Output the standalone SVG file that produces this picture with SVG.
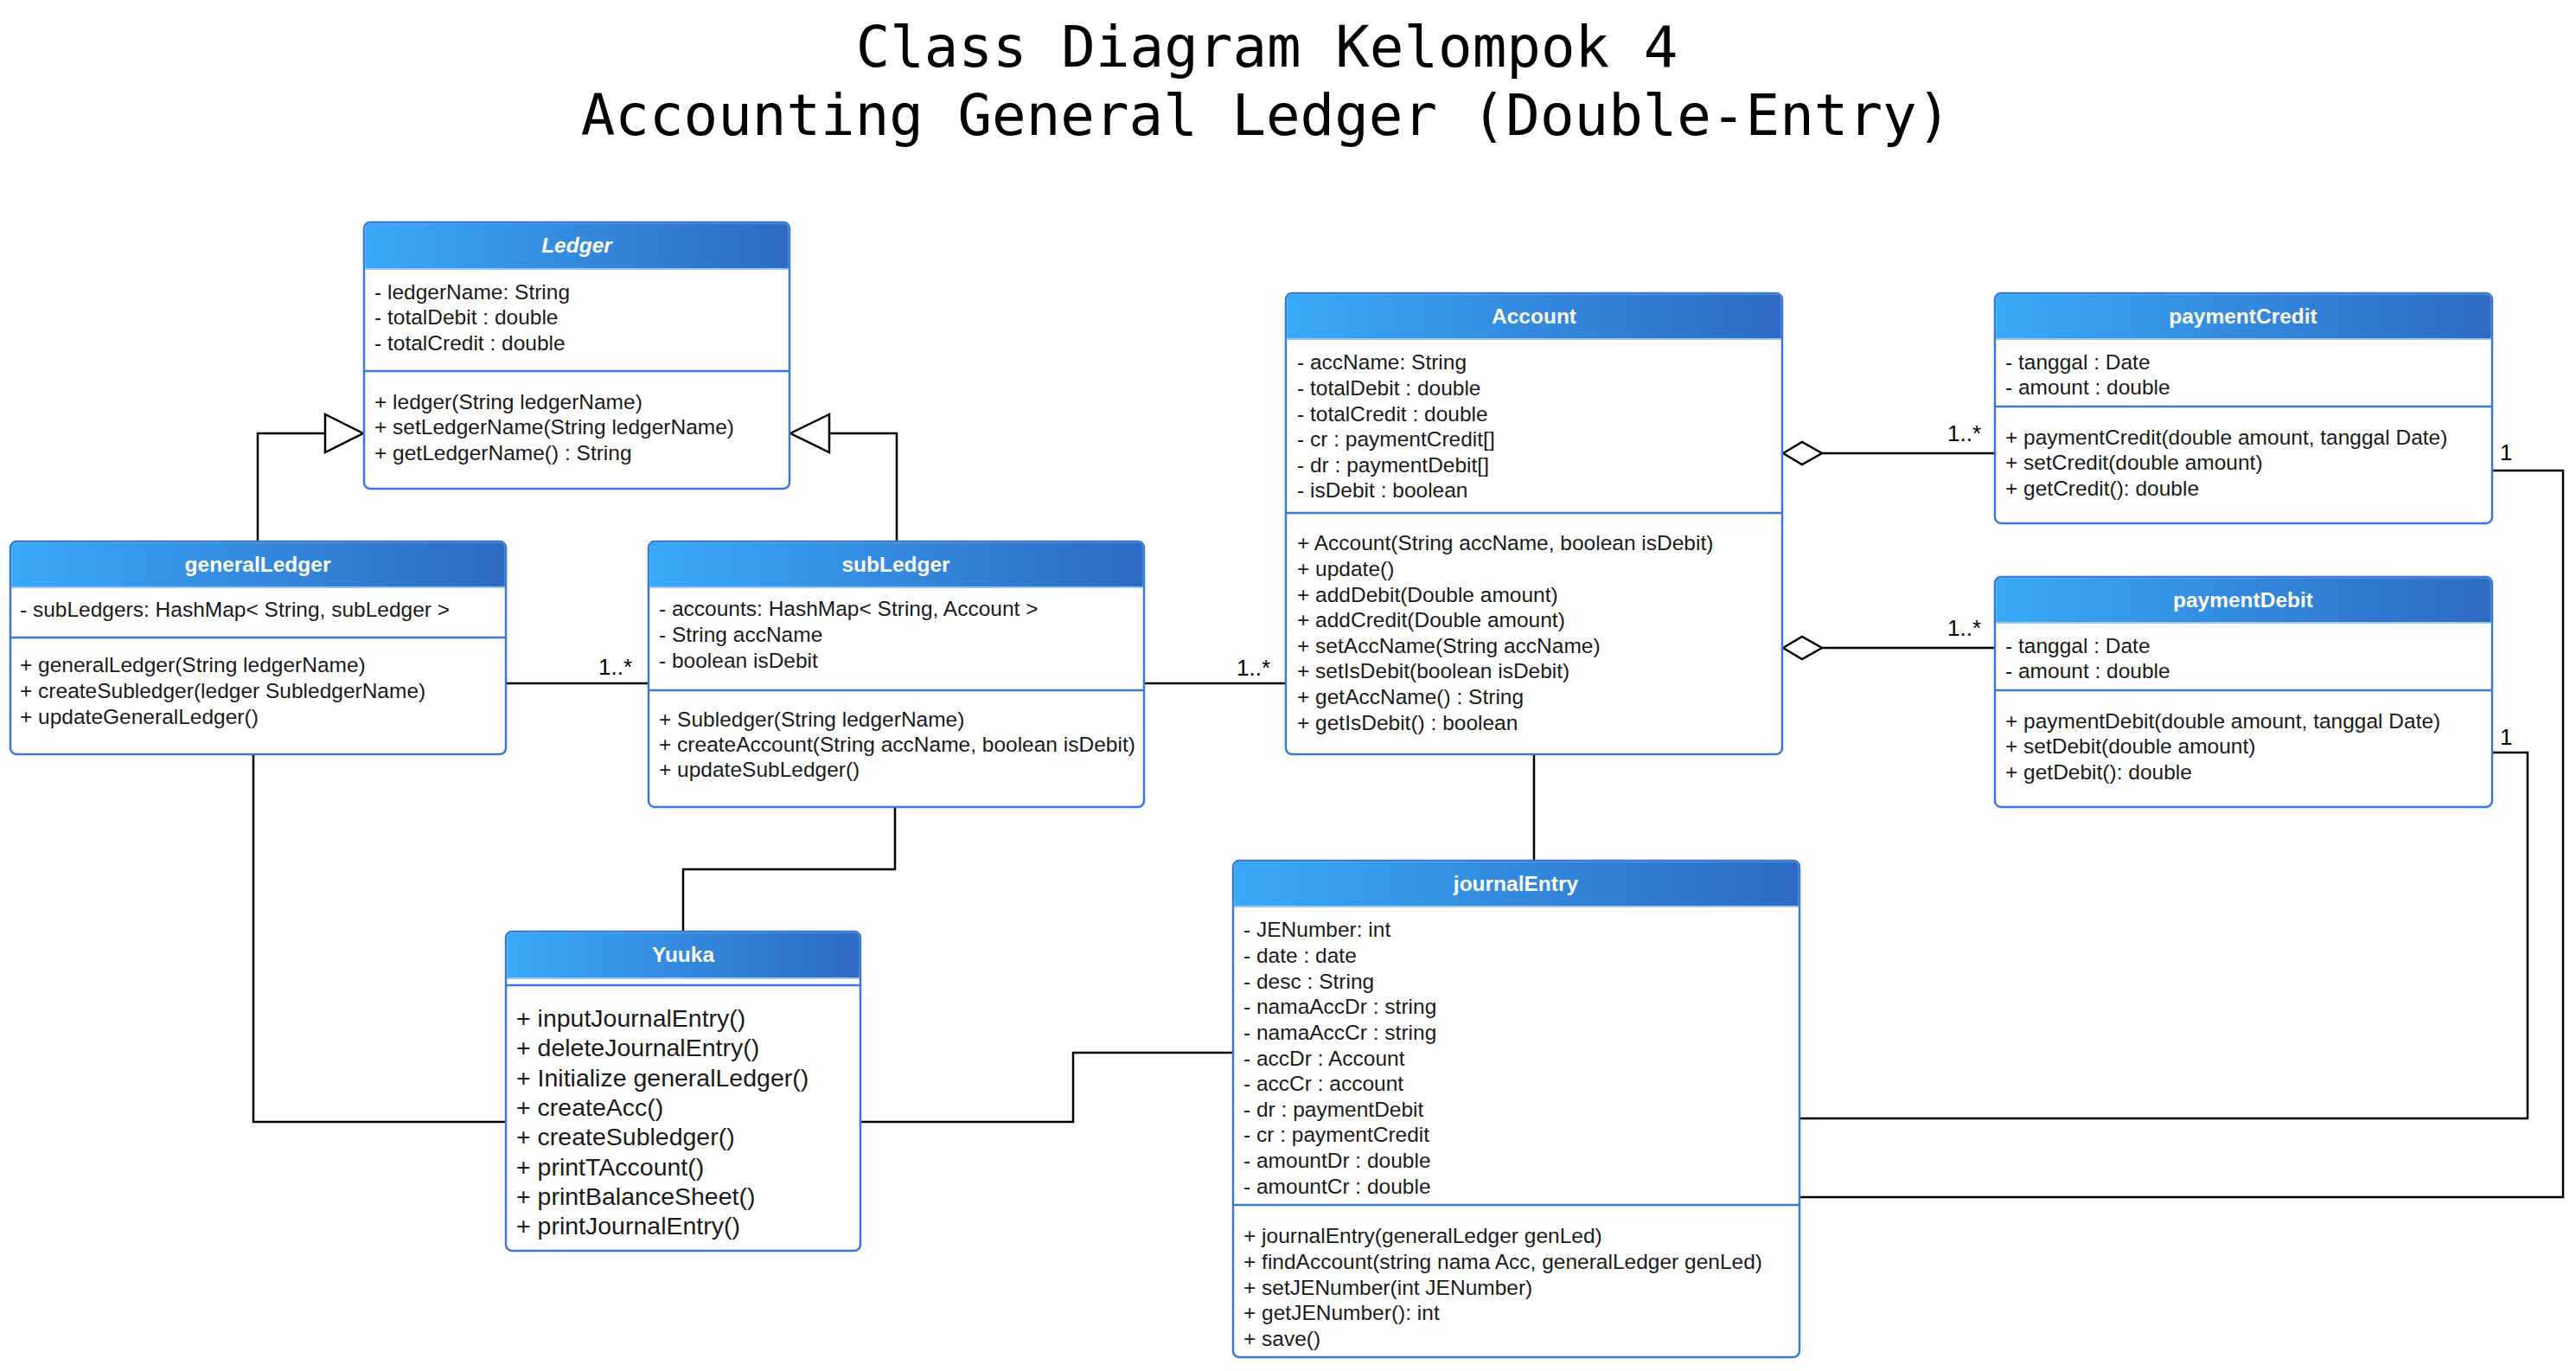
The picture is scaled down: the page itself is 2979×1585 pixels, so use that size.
<svg xmlns="http://www.w3.org/2000/svg" width="2979" height="1585" viewBox="0 0 2979 1585">
<defs>
<linearGradient id="hdr" x1="0" y1="0" x2="1" y2="0">
<stop offset="0" stop-color="#39a9f8"/>
<stop offset="1" stop-color="#2d6ac3"/>
</linearGradient>
<style>
.box{fill:#fff;stroke:#3a78d6;stroke-width:2.5}
.hd{fill:url(#hdr)}
.div{stroke:#3a78d6;stroke-width:2.5}
.sep{stroke:#9cc7f3;stroke-width:2}
.t{font-family:"Liberation Sans",Arial,sans-serif;font-size:24.5px;fill:#1a1a1a}
.ty{font-family:"Liberation Sans",Arial,sans-serif;font-size:28.5px;fill:#1a1a1a}
.h{font-family:"Liberation Sans",Arial,sans-serif;font-size:24.5px;font-weight:bold;fill:#fff;text-anchor:middle}
.ttl{font-family:"DejaVu Sans Mono",monospace;font-size:65.8px;fill:#000;text-anchor:middle}
.c{fill:none;stroke:#000;stroke-width:2.5}
.lbl{font-family:"Liberation Sans",Arial,sans-serif;font-size:26px;fill:#000}
.hw{fill:#fff;stroke:#000;stroke-width:2.5}
</style>
</defs>
<rect width="2979" height="1585" fill="#fff"/>
<g id="title">
<text class="ttl" x="1465" y="77">Class Diagram Kelompok 4</text>
<text class="ttl" x="1464" y="156">Accounting General Ledger (Double-Entry)</text>
</g>
<g id="connectors">
<path class="c" d="M298,626 V501 H376"/>
<polygon class="hw" points="376,479 420,501 376,523"/>
<path class="c" d="M1037,626 V501 H959"/>
<polygon class="hw" points="959,479 914,501 959,523"/>
<path class="c" d="M585,790 H750"/>
<text class="lbl" x="692" y="780">1..*</text>
<path class="c" d="M1323,790 H1487"/>
<text class="lbl" x="1430" y="781">1..*</text>
<path class="c" d="M2107,524 H2307"/>
<polygon class="hw" points="2062,524 2084,511 2107,524 2084,537"/>
<text class="lbl" x="2252" y="510">1..*</text>
<path class="c" d="M2107,749 H2307"/>
<polygon class="hw" points="2062,749 2084,736 2107,749 2084,762"/>
<text class="lbl" x="2252" y="735">1..*</text>
<path class="c" d="M2882,544 H2964 V1384 H2081"/>
<text class="lbl" x="2891" y="532">1</text>
<path class="c" d="M2882,870 H2923 V1293 H2081"/>
<text class="lbl" x="2891" y="861">1</text>
<path class="c" d="M1774,872 V995"/>
<path class="c" d="M293,872 V1297 H585"/>
<path class="c" d="M1035,933 V1005 H790 V1077"/>
<path class="c" d="M995,1297 H1241 V1217 H1426"/>
</g>
<g id="Ledger">
<rect class="box" x="421" y="257" width="492" height="308" rx="7"/>
<path class="hd" d="M428,258.25 H906 A5.75,5.75 0 0 1 911.75,264 V311 H422.25 V264 A5.75,5.75 0 0 1 428,258.25 Z"/>
<line class="sep" x1="422.25" y1="311" x2="911.75" y2="311"/>
<text class="h" x="667" y="292" font-style="italic">Ledger</text>
<text class="t" x="433" y="346">- ledgerName: String</text>
<text class="t" x="433" y="375">- totalDebit : double</text>
<text class="t" x="433" y="405">- totalCredit : double</text>
<line class="div" x1="421" y1="429" x2="913" y2="429"/>
<text class="t" x="433" y="473">+ ledger(String ledgerName)</text>
<text class="t" x="433" y="502">+ setLedgerName(String ledgerName)</text>
<text class="t" x="433" y="532">+ getLedgerName() : String</text>
</g>
<g id="generalLedger">
<rect class="box" x="12" y="626" width="573" height="246" rx="7"/>
<path class="hd" d="M19,627.25 H578 A5.75,5.75 0 0 1 583.75,633 V679 H13.25 V633 A5.75,5.75 0 0 1 19,627.25 Z"/>
<line class="sep" x1="13.25" y1="679" x2="583.75" y2="679"/>
<text class="h" x="298" y="661">generalLedger</text>
<text class="t" x="23" y="713">- subLedgers: HashMap&lt; String, subLedger &gt;</text>
<line class="div" x1="12" y1="737" x2="585" y2="737"/>
<text class="t" x="23" y="777">+ generalLedger(String ledgerName)</text>
<text class="t" x="23" y="807">+ createSubledger(ledger SubledgerName)</text>
<text class="t" x="23" y="837">+ updateGeneralLedger()</text>
</g>
<g id="subLedger">
<rect class="box" x="750" y="626" width="573" height="307" rx="7"/>
<path class="hd" d="M757,627.25 H1316 A5.75,5.75 0 0 1 1321.75,633 V679 H751.25 V633 A5.75,5.75 0 0 1 757,627.25 Z"/>
<line class="sep" x1="751.25" y1="679" x2="1321.75" y2="679"/>
<text class="h" x="1036" y="661">subLedger</text>
<text class="t" x="762" y="712">- accounts: HashMap&lt; String, Account &gt;</text>
<text class="t" x="762" y="742">- String accName</text>
<text class="t" x="762" y="772">- boolean isDebit</text>
<line class="div" x1="750" y1="798" x2="1323" y2="798"/>
<text class="t" x="762" y="840">+ Subledger(String ledgerName)</text>
<text class="t" x="762" y="869">+ createAccount(String accName, boolean isDebit)</text>
<text class="t" x="762" y="898">+ updateSubLedger()</text>
</g>
<g id="Account">
<rect class="box" x="1487" y="339" width="574" height="533" rx="7"/>
<path class="hd" d="M1494,340.25 H2054 A5.75,5.75 0 0 1 2059.75,346 V392 H1488.25 V346 A5.75,5.75 0 0 1 1494,340.25 Z"/>
<line class="sep" x1="1488.25" y1="392" x2="2059.75" y2="392"/>
<text class="h" x="1774" y="374">Account</text>
<text class="t" x="1500" y="427">- accName: String</text>
<text class="t" x="1500" y="457">- totalDebit : double</text>
<text class="t" x="1500" y="487">- totalCredit : double</text>
<text class="t" x="1500" y="516">- cr : paymentCredit[]</text>
<text class="t" x="1500" y="546">- dr : paymentDebit[]</text>
<text class="t" x="1500" y="575">- isDebit : boolean</text>
<line class="div" x1="1487" y1="593" x2="2061" y2="593"/>
<text class="t" x="1500" y="636">+ Account(String accName, boolean isDebit)</text>
<text class="t" x="1500" y="666">+ update()</text>
<text class="t" x="1500" y="696">+ addDebit(Double amount)</text>
<text class="t" x="1500" y="725">+ addCredit(Double amount)</text>
<text class="t" x="1500" y="755">+ setAccName(String accName)</text>
<text class="t" x="1500" y="784">+ setIsDebit(boolean isDebit)</text>
<text class="t" x="1500" y="814">+ getAccName() : String</text>
<text class="t" x="1500" y="844">+ getIsDebit() : boolean</text>
</g>
<g id="paymentCredit">
<rect class="box" x="2307" y="339" width="575" height="266" rx="7"/>
<path class="hd" d="M2314,340.25 H2875 A5.75,5.75 0 0 1 2880.75,346 V392 H2308.25 V346 A5.75,5.75 0 0 1 2314,340.25 Z"/>
<line class="sep" x1="2308.25" y1="392" x2="2880.75" y2="392"/>
<text class="h" x="2594" y="374">paymentCredit</text>
<text class="t" x="2319" y="427">- tanggal : Date</text>
<text class="t" x="2319" y="456">- amount : double</text>
<line class="div" x1="2307" y1="470" x2="2882" y2="470"/>
<text class="t" x="2319" y="514">+ paymentCredit(double amount, tanggal Date)</text>
<text class="t" x="2319" y="543">+ setCredit(double amount)</text>
<text class="t" x="2319" y="573">+ getCredit(): double</text>
</g>
<g id="paymentDebit">
<rect class="box" x="2307" y="667" width="575" height="266" rx="7"/>
<path class="hd" d="M2314,668.25 H2875 A5.75,5.75 0 0 1 2880.75,674 V720 H2308.25 V674 A5.75,5.75 0 0 1 2314,668.25 Z"/>
<line class="sep" x1="2308.25" y1="720" x2="2880.75" y2="720"/>
<text class="h" x="2594" y="702">paymentDebit</text>
<text class="t" x="2319" y="755">- tanggal : Date</text>
<text class="t" x="2319" y="784">- amount : double</text>
<line class="div" x1="2307" y1="798" x2="2882" y2="798"/>
<text class="t" x="2319" y="842">+ paymentDebit(double amount, tanggal Date)</text>
<text class="t" x="2319" y="871">+ setDebit(double amount)</text>
<text class="t" x="2319" y="901">+ getDebit(): double</text>
</g>
<g id="Yuuka">
<rect class="box" x="585" y="1077" width="410" height="369" rx="7"/>
<path class="hd" d="M592,1078.25 H988 A5.75,5.75 0 0 1 993.75,1084 V1131 H586.25 V1084 A5.75,5.75 0 0 1 592,1078.25 Z"/>
<line class="sep" x1="586.25" y1="1131" x2="993.75" y2="1131"/>
<text class="h" x="790" y="1112">Yuuka</text>
<line class="div" x1="585" y1="1139" x2="995" y2="1139"/>
<text class="ty" x="597" y="1187">+ inputJournalEntry()</text>
<text class="ty" x="597" y="1221">+ deleteJournalEntry()</text>
<text class="ty" x="597" y="1256">+ Initialize generalLedger()</text>
<text class="ty" x="597" y="1290">+ createAcc()</text>
<text class="ty" x="597" y="1324">+ createSubledger()</text>
<text class="ty" x="597" y="1359">+ printTAccount()</text>
<text class="ty" x="597" y="1393">+ printBalanceSheet()</text>
<text class="ty" x="597" y="1427">+ printJournalEntry()</text>
</g>
<g id="journalEntry">
<rect class="box" x="1426" y="995" width="655" height="574" rx="7"/>
<path class="hd" d="M1433,996.25 H2074 A5.75,5.75 0 0 1 2079.75,1002 V1048 H1427.25 V1002 A5.75,5.75 0 0 1 1433,996.25 Z"/>
<line class="sep" x1="1427.25" y1="1048" x2="2079.75" y2="1048"/>
<text class="h" x="1753" y="1030">journalEntry</text>
<text class="t" x="1438" y="1083">- JENumber: int</text>
<text class="t" x="1438" y="1113">- date : date</text>
<text class="t" x="1438" y="1143">- desc : String</text>
<text class="t" x="1438" y="1172">- namaAccDr : string</text>
<text class="t" x="1438" y="1202">- namaAccCr : string</text>
<text class="t" x="1438" y="1232">- accDr : Account</text>
<text class="t" x="1438" y="1261">- accCr : account</text>
<text class="t" x="1438" y="1291">- dr : paymentDebit</text>
<text class="t" x="1438" y="1320">- cr : paymentCredit</text>
<text class="t" x="1438" y="1350">- amountDr : double</text>
<text class="t" x="1438" y="1380">- amountCr : double</text>
<line class="div" x1="1426" y1="1393" x2="2081" y2="1393"/>
<text class="t" x="1438" y="1437">+ journalEntry(generalLedger genLed)</text>
<text class="t" x="1438" y="1467">+ findAccount(string nama Acc, generalLedger genLed)</text>
<text class="t" x="1438" y="1497">+ setJENumber(int JENumber)</text>
<text class="t" x="1438" y="1526">+ getJENumber(): int</text>
<text class="t" x="1438" y="1556">+ save()</text>
</g>
</svg>
